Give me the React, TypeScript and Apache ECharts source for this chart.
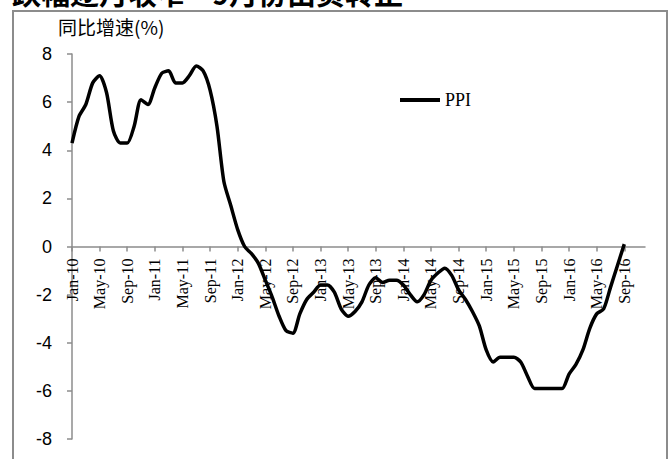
import React, { useEffect, useRef } from "react";
import * as echarts from "echarts";

const months = ["Jan", "Feb", "Mar", "Apr", "May", "Jun", "Jul", "Aug", "Sep", "Oct", "Nov", "Dec"];
const years = ["10", "11", "12", "13", "14", "15", "16"];
const categories: string[] = [];
years.forEach((y) => months.forEach((m) => categories.push(`${m}-${y}`)));

const ppiValues: (number | null)[] = [
  4.3, 5.4, 5.9, 6.8, 7.1, 6.4, 4.8, 4.3, 4.3, 5.0, 6.1, 5.9,
  6.6, 7.2, 7.3, 6.8, 6.8, 7.1, 7.5, 7.3, 6.5, 5.0, 2.7, 1.7,
  0.7, 0.0, -0.3, -0.7, -1.4, -2.1, -2.9, -3.5, -3.6, -2.8, -2.2, -1.9,
  -1.6, -1.6, -1.9, -2.6, -2.9, -2.7, -2.3, -1.6, -1.3, -1.5, -1.4, -1.4,
  -1.6, -2.0, -2.3, -2.0, -1.4, -1.1, -0.9, -1.2, -1.8, -2.2, -2.7, -3.3,
  -4.3, -4.8, -4.6, -4.6, -4.6, -4.8, -5.4, -5.9, -5.9, -5.9, -5.9, -5.9,
  -5.3, -4.9, -4.3, -3.4, -2.8, -2.6, -1.7, -0.8, 0.1, null, null, null,
];

const seriesName = "PPI";
const yAxisTitle = "同比增速(%)";
const titleLeft = "跌幅逐月收窄";
const titleRight = "9月份由负转正";

export default function App() {
  const ref = useRef<HTMLDivElement>(null);
  useEffect(() => {
    if (!ref.current) return;
    const chart = echarts.init(ref.current, undefined, { renderer: "svg" });
    chart.setOption({
      animation: false,
      backgroundColor: "#ffffff",
      grid: { left: 72, right: 25, top: 54, bottom: 20, containLabel: false, outerBoundsMode: "none" },
      legend: {
        left: 395,
        top: 86,
        icon: "rect",
        itemWidth: 40,
        itemHeight: 4,
        data: [seriesName],
        textStyle: { fontFamily: "Liberation Serif", fontSize: 18, color: "#000" },
      },
      graphic: [
        {
          type: "text",
          left: 12,
          top: -23,
          style: { text: titleLeft, font: "bold 29px 'Noto Sans CJK SC'", fill: "#000" },
        },
        {
          type: "text",
          left: 212,
          top: -23,
          style: { text: titleRight, font: "bold 29px 'Noto Sans CJK SC'", fill: "#000" },
        },
        {
          type: "rect",
          shape: { x: 13, y: 11, width: 654, height: 470 },
          style: { fill: "none", stroke: "#8c8c8c", lineWidth: 2 },
        },
        {
          type: "text",
          left: 58,
          top: 17,
          style: { text: yAxisTitle, font: "19px 'Noto Sans CJK SC'", fill: "#000" },
        },
      ],
      xAxis: {
        type: "category",
        data: categories,
        boundaryGap: false,
        position: "bottom",
        offset: -192.5,
        axisLine: { onZero: false, lineStyle: { color: "#8c8c8c", width: 1.5 } },
        axisTick: { show: true, interval: 3, length: 5, lineStyle: { color: "#8c8c8c", width: 1.5 } },
        axisLabel: {
          interval: 3,
          rotate: 90,
          margin: 12,
          hideOverlap: false,
          fontFamily: "Liberation Serif",
          fontSize: 16,
          color: "#000",
        },
        splitLine: { show: false },
      },
      yAxis: {
        type: "value",
        min: -8,
        max: 8,
        interval: 2,
        axisLine: { show: true, lineStyle: { color: "#8c8c8c", width: 1.5 } },
        axisTick: { show: true, length: 5, lineStyle: { color: "#8c8c8c", width: 1.5 } },
        axisLabel: { margin: 20, fontFamily: "Liberation Sans", fontSize: 18, color: "#000" },
        splitLine: { show: false },
      },
      series: [
        {
          name: seriesName,
          type: "line",
          data: ppiValues,
          showSymbol: false,
          smooth: 0.25,
          lineStyle: { color: "#000", width: 3.5 },
          itemStyle: { color: "#000" },
        },
      ],
    });
    return () => chart.dispose();
  }, []);
  return (
    <div
      ref={ref}
      style={{ position: "fixed", left: 0, top: 0, width: 670, height: 459, background: "#fff" }}
    />
  );
}
